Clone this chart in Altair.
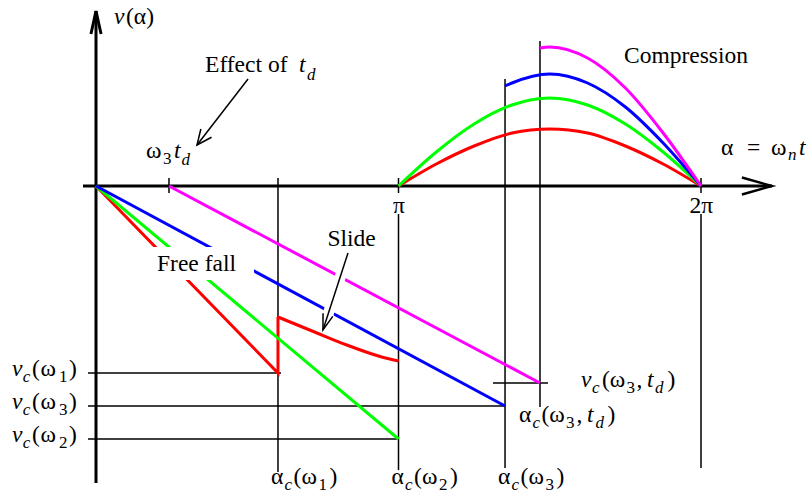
import math
import altair as alt
import pandas as pd

PI = math.pi

# ---- characteristic abscissae, alpha = omega_n * t ----
ALPHA_TD = 0.758      # omega_3 t_d
ALPHA_C1 = 1.890      # alpha_c(omega_1)
ALPHA_C2 = PI         # alpha_c(omega_2)
ALPHA_C3 = 4.248      # alpha_c(omega_3)
ALPHA_C3TD = 4.611    # alpha_c(omega_3, t_d)
TWO_PI = 2 * PI

# ---- contact velocities ----
V_C1 = -1.87
V_C3 = -2.20
V_C2 = -2.53
V_C3TD = -1.97

# omega_1: jump at contact, then slide up to pi
V_JUMP_1 = -1.31
SLIDE_ALPHA = [1.890, 2.257, 2.604, 2.950, 3.142]
SLIDE_V = [-1.31, -1.455, -1.59, -1.705, -1.75]

# compression arcs ending at 2*pi
COMP_ALPHA = [3.142, 3.534, 3.927, 4.320, 4.712, 5.105, 5.498, 5.890, 6.283]
COMP_RED = [0.00, 0.22, 0.40, 0.53, 0.57, 0.53, 0.40, 0.22, 0.00]
COMP_GREEN = [0.00, 0.34, 0.62, 0.81, 0.88, 0.81, 0.62, 0.34, 0.00]
COMP_BLUE_ALPHA = [4.248, 4.320, 4.712, 5.105, 5.498, 5.890, 6.283]
COMP_BLUE = [1.00, 1.03, 1.12, 1.03, 0.79, 0.43, 0.00]
COMP_MAGENTA_ALPHA = [4.611, 4.712, 5.105, 5.498, 5.890, 6.283]
COMP_MAGENTA = [1.38, 1.39, 1.28, 0.98, 0.53, 0.00]

SERIES = ["w1", "w2", "w3", "w3td"]
COLORS = ["#ff0000", "#00ff00", "#0000ff", "#ff00ff"]

# annotation anchors (alpha, v)
EFFECT_TAIL, EFFECT_TIP = (1.579, 1.07), (1.049, 0.41)
SLIDE_TAIL, SLIDE_TIP = (2.617, -0.67), (2.357, -1.44)
FREE_FALL_AT = (0.634, -0.847)
COMPRESSION_AT = (5.483, 1.23)
X_AXIS = (-0.135, 7.02)
Y_AXIS = (-2.97, 1.75)

# ---- layout: pixel mapping of the plotting frame ----
W, H = 812, 500
S = 302.5 / PI     # px per radian
SY = 100.0         # px per velocity unit
X0, Y0 = 96, 186   # pixel position of the origin
xs = alt.Scale(domain=[-X0 / S, (W - X0) / S], nice=False, zero=False)
ys = alt.Scale(domain=[-(H - Y0) / SY, Y0 / SY], nice=False, zero=False)
FONT = "Liberation Serif, Times New Roman, serif"
MAIN, SUB = 23.5, 17

# ---- curves ----
rows = []


def add(series, seg, alphas, vs, kind):
    for i, (a, v) in enumerate(zip(alphas, vs)):
        rows.append(dict(series=series, seg=seg, ord=i, alpha=a, v=v, kind=kind))


add("w1", "w1-fall", [0, ALPHA_C1, ALPHA_C1], [0, V_C1, V_JUMP_1], "lin")
add("w2", "w2-fall", [0, ALPHA_C2], [0, V_C2], "lin")
add("w3", "w3-fall", [0, ALPHA_C3], [0, V_C3], "lin")
add("w3td", "w3td-fall", [ALPHA_TD, ALPHA_C3TD], [0, V_C3TD], "lin")
add("w1", "w1-slide", SLIDE_ALPHA, SLIDE_V, "smooth")
add("w1", "w1-comp", COMP_ALPHA, COMP_RED, "smooth")
add("w2", "w2-comp", COMP_ALPHA, COMP_GREEN, "smooth")
add("w3", "w3-comp", COMP_BLUE_ALPHA, COMP_BLUE, "smooth")
add("w3td", "w3td-comp", COMP_MAGENTA_ALPHA, COMP_MAGENTA, "smooth")
curves = pd.DataFrame(rows)

color = alt.Color("series:N", scale=alt.Scale(domain=SERIES, range=COLORS), legend=None)


def line_layer(kind, interp):
    return alt.Chart(curves[curves.kind == kind]).mark_line(
        strokeWidth=3, interpolate=interp
    ).encode(
        x=alt.X("alpha:Q", scale=xs, axis=None),
        y=alt.Y("v:Q", scale=ys, axis=None),
        color=color,
        detail="seg:N",
        order="ord:Q",
    )


# ---- guide lines ----
T = 0.08
guides = []
for a, top, bot in [
    (ALPHA_TD, T, -0.07),
    (ALPHA_C1, T, -2.86),
    (ALPHA_C2, T, -0.07), (ALPHA_C2, -0.28, -2.84),
    (ALPHA_C3, 1.07, -2.82),
    (ALPHA_C3TD, 1.45, -2.21),
    (TWO_PI, T, -0.07), (TWO_PI, -0.28, -2.82),
]:
    guides.append(dict(a1=a, a2=a, v1=top, v2=bot))
for v, a1, a2 in [
    (V_C1, -8 / S, ALPHA_C1 + 3 / S),
    (V_C3, -8 / S, ALPHA_C3),
    (V_C2, -8 / S, ALPHA_C2),
    (V_C3TD, ALPHA_C3TD - 47 / S, ALPHA_C3TD + 8 / S),
]:
    guides.append(dict(a1=a1, a2=a2, v1=v, v2=v))
guides = pd.DataFrame(guides)

axes = pd.DataFrame([
    dict(a1=X_AXIS[0], a2=X_AXIS[1], v1=0, v2=0),
    dict(a1=0, a2=0, v1=Y_AXIS[0], v2=Y_AXIS[1]),
])


def rule_layer(df, width, col="black"):
    return alt.Chart(df).mark_rule(strokeWidth=width, color=col).encode(
        x=alt.X("a1:Q", scale=xs, axis=None), x2="a2:Q",
        y=alt.Y("v1:Q", scale=ys, axis=None), y2="v2:Q",
    )


def seg_df(p, q):
    return pd.DataFrame([dict(a1=p[0], v1=p[1], a2=q[0], v2=q[1])])


def arrow_head(tail, tip, length, spread, width):
    dxp = (tip[0] - tail[0]) * S
    dyp = -(tip[1] - tail[1]) * SY
    ang = math.degrees(math.atan2(dxp, -dyp)) % 360
    path = f"M{-spread},1L0,0L{spread},1"
    return alt.Chart(pd.DataFrame([dict(a=tip[0], v=tip[1])])).mark_point(
        shape=path, size=4 * length * length, angle=ang, filled=False,
        color="black", strokeWidth=width, opacity=1,
    ).encode(
        x=alt.X("a:Q", scale=xs, axis=None),
        y=alt.Y("v:Q", scale=ys, axis=None),
    )


# ---- text fragments (main text and subscripts) ----
frags = []


def put(anchor, dx, dy, text, style):
    frags.append(dict(alpha=anchor[0] + dx / S, v=anchor[1] - dy / SY, text=text, style=style))


for v, d in [(V_C1, "1"), (V_C3, "3"), (V_C2, "2")]:
    p = (0, v)
    put(p, -84, 2.5, "v", "i")
    put(p, -73.3, 8.5, "c", "is")
    put(p, -64, 2.5, "(", "r")
    put(p, -55.5, 2.5, "ω", "r")
    put(p, -37, 8.5, d, "rs")
    put(p, -27, 2.5, ")", "r")

for a, d in [(ALPHA_C1, "1"), (ALPHA_C2, "2"), (ALPHA_C3, "3")]:
    p = (a, 0)
    put(p, -7, 298, "α", "r")
    put(p, 6.5, 304, "c", "is")
    put(p, 15.5, 298, "(", "r")
    put(p, 23.5, 298, "ω", "r")
    put(p, 40.5, 304, d, "rs")
    put(p, 51.5, 298, ")", "r")

p = (ALPHA_C3, V_C3)
for dx, dy, t, s in [(14, 16, "α", "r"), (27.5, 22, "c", "is"), (36.5, 16, "(", "r"),
                     (44.3, 16, "ω", "r"), (61, 22, "3", "rs"), (71.5, 16, ",", "r"),
                     (82, 16, "t", "i"), (90.5, 22, "d", "is"), (102.5, 16, ")", "r")]:
    put(p, dx, dy, t, s)

p = (ALPHA_C3TD, V_C3TD)
for dx, dy, t, s in [(41, 4, "v", "i"), (52, 10, "c", "is"), (62, 4, "(", "r"),
                     (69.8, 4, "ω", "r"), (86.5, 10, "3", "rs"), (96.5, 4, ",", "r"),
                     (107, 4, "t", "i"), (115, 10, "d", "is"), (127.5, 4, ")", "r")]:
    put(p, dx, dy, t, s)

p = (ALPHA_TD, 0)
put(p, -23, -28, "ω", "r")
put(p, -6, -22, "3", "rs")
put(p, 5, -28, "t", "i")
put(p, 12.5, -21, "d", "is")

p = (0, Y_AXIS[1])
put(p, 18, 12.5, "v", "i")
put(p, 30, 12.5, "(α)", "r")

put(EFFECT_TAIL, -43, -7.5, "Effect of", "r")
put(EFFECT_TAIL, 51, -7.5, "t", "i")
put(EFFECT_TAIL, 59, 0.5, "d", "is")

put(SLIDE_TAIL, -20.5, -7.3, "Slide", "r")
put(FREE_FALL_AT, 0, 0, "Free fall", "r")
put(COMPRESSION_AT, 0, 0, "Compression", "r")

put((ALPHA_C2, 0), -5.5, 27, "π", "r")
put((TWO_PI, 0), -11.5, 27, "2π", "r")

p = (X_AXIS[1], 0)
put(p, -51, -31, "α", "r")
put(p, -25, -31, "=", "r")
put(p, -1, -31, "ω", "r")
put(p, 16, -26, "n", "is")
put(p, 27, -31, "t", "i")
frags = pd.DataFrame(frags)

STYLES = {"r": ("normal", MAIN), "i": ("italic", MAIN), "rs": ("normal", SUB), "is": ("italic", SUB)}


def text_layer(style):
    fs, size = STYLES[style]
    return alt.Chart(frags[frags["style"] == style]).mark_text(
        align="left", baseline="alphabetic", font=FONT, fontSize=size,
        fontStyle=fs, color="black",
    ).encode(
        x=alt.X("alpha:Q", scale=xs, axis=None),
        y=alt.Y("v:Q", scale=ys, axis=None),
        text="text:N",
    )


# white backdrop behind the "Free fall" label
box = pd.DataFrame([dict(
    a1=FREE_FALL_AT[0] - 8 / S, a2=FREE_FALL_AT[0] + 97 / S,
    v1=FREE_FALL_AT[1] + 23.7 / SY, v2=FREE_FALL_AT[1] - 9.3 / SY,
)])
box_layer = alt.Chart(box).mark_rect(color="white").encode(
    x=alt.X("a1:Q", scale=xs, axis=None), x2="a2:Q",
    y=alt.Y("v1:Q", scale=ys, axis=None), y2="v2:Q",
)

layers = [
    rule_layer(guides, 1.5),
    rule_layer(axes, 3),
    line_layer("lin", "linear"),
    line_layer("smooth", "monotone"),
    box_layer,
    rule_layer(seg_df(SLIDE_TAIL, SLIDE_TIP), 11, "white"),
    rule_layer(seg_df(SLIDE_TAIL, SLIDE_TIP), 1.5),
    rule_layer(seg_df(EFFECT_TAIL, EFFECT_TIP), 1.5),
    arrow_head(SLIDE_TAIL, SLIDE_TIP, 16, 0.32, 1.5),
    arrow_head(EFFECT_TAIL, EFFECT_TIP, 15, 0.45, 1.5),
    arrow_head((X_AXIS[0], 0), (X_AXIS[1], 0), 30, 0.283, 2.5),
    arrow_head((0, Y_AXIS[0]), (0, Y_AXIS[1]), 23, 0.22, 3),
] + [text_layer(s) for s in STYLES]

chart = alt.layer(*layers).properties(
    width=W, height=H, padding=0,
    autosize=alt.AutoSizeParams(type="none"),
    background="white",
).configure_view(stroke=None)

chart.save("out.html", embed_options={"renderer": "svg", "actions": False})
